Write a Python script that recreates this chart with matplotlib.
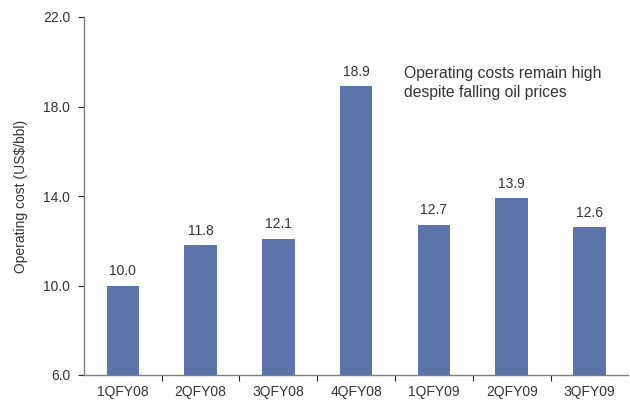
import matplotlib.pyplot as plt
import numpy as np

quarters = ["1QFY08", "2QFY08", "3QFY08", "4QFY08", "1QFY09", "2QFY09", "3QFY09"]
op_cost = [10.0, 11.8, 12.1, 18.9, 12.7, 13.9, 12.6]
y_ticks = [6.0, 10.0, 14.0, 18.0, 22.0]

bar_color = "#5b74a9"
text_color = "#333333"
axis_color = "#7f7f7f"

plt.rcParams["font.family"] = ["Liberation Sans", "DejaVu Sans"]

fig = plt.figure(figsize=(6.3, 4.0), dpi=100)
ax = fig.add_axes([0.1333, 0.0625, 0.864, 0.895])

x = np.arange(len(quarters))
bars = ax.bar(x, op_cost, width=0.42, color=bar_color, zorder=2)

for xi, v in zip(x, op_cost):
    ax.annotate(f"{v:.1f}", (xi, v), xytext=(0, 5.5), textcoords="offset points",
                ha="center", va="bottom", fontsize=10, color=text_color)

ax.set_xlim(-0.5, len(quarters) - 0.5)
ax.set_ylim(6.0, 22.0)
ax.set_yticks(y_ticks)
ax.set_yticklabels([f"{t:.1f}" for t in y_ticks])
ax.set_xticks(x)
ax.set_xticklabels(quarters)
# category separators on the x axis
ax.set_xticks(np.arange(0.5, len(quarters) - 0.5), minor=True)
ax.tick_params(axis="x", which="major", length=0, pad=7, labelsize=10, labelcolor=text_color)
ax.tick_params(axis="x", which="minor", length=4, direction="out", color="#222222", width=0.8)
ax.tick_params(axis="y", length=4, direction="out", color="#222222", width=0.8,
               labelsize=10, labelcolor=text_color, pad=6)

for side in ["top", "right"]:
    ax.spines[side].set_visible(False)
for side in ["left", "bottom"]:
    ax.spines[side].set_color(axis_color)
    ax.spines[side].set_linewidth(1.0)

ax.set_ylabel("Operating cost (US\\$/bbl)", fontsize=10, color=text_color, labelpad=11)

ax.text(3.62, 19.05, "Operating costs remain high\ndespite falling oil prices",
        fontsize=11.3, color=text_color, ha="left", va="center", linespacing=1.3)

fig.savefig("out.png", dpi=100)
